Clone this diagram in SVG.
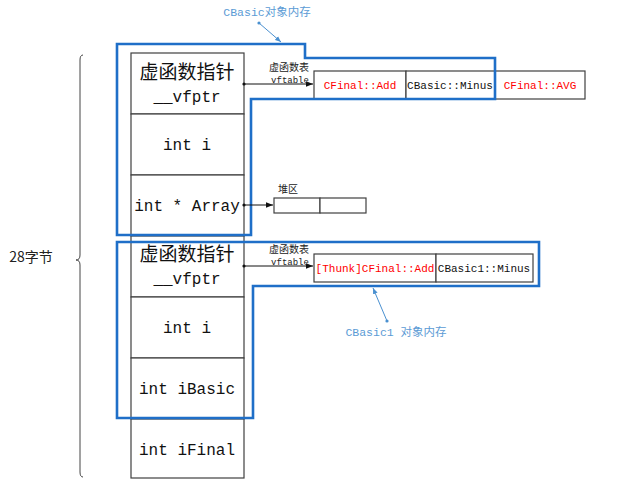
<svg xmlns="http://www.w3.org/2000/svg" width="640" height="480" viewBox="0 0 640 480">
<defs>
<style>
.cell{fill:#fff;stroke:#404040;stroke-width:1.2}
.tcell{fill:#fff;stroke:#404040;stroke-width:1.2}
.big{font-family:"Liberation Mono","Noto Sans CJK SC",monospace;font-size:16px;fill:#111;text-anchor:middle}
.cjk{font-family:"Noto Sans CJK SC",sans-serif;font-size:19px;fill:#111;text-anchor:middle}
.tt{font-family:"Liberation Mono","Noto Sans CJK SC",monospace;font-size:11px;text-anchor:middle}
.red{fill:#ff0000}
.blk{fill:#111}
.small{font-family:"Noto Sans CJK SC",sans-serif;font-size:10px;fill:#222;text-anchor:middle}
.vf{font-family:"Liberation Mono",monospace;font-size:9px;fill:#222;text-anchor:middle}
.lbl{font-family:"Liberation Mono","Noto Sans CJK SC",monospace;font-size:11.5px;fill:#5b9bd5;text-anchor:middle}
.outline{fill:none;stroke:#1f6fc8;stroke-width:2.6}
.ptr{stroke:#111;stroke-width:1;fill:none}
.bptr{stroke:#4a90d0;stroke-width:1;fill:none}
</style>
<marker id="ah" viewBox="0 0 10 10" refX="10" refY="5" markerWidth="7" markerHeight="7" orient="auto"><path d="M0,1 L10,5 L0,9 z" fill="#111"/></marker>
<marker id="bah" viewBox="0 0 10 10" refX="10" refY="5" markerWidth="6" markerHeight="6" orient="auto"><path d="M0,1 L10,5 L0,9 z" fill="#4a90d0"/></marker>
<marker id="dot" viewBox="0 0 10 10" refX="5" refY="5" markerWidth="4" markerHeight="4"><circle cx="5" cy="5" r="4" fill="#111"/></marker>
<marker id="bdot" viewBox="0 0 10 10" refX="5" refY="5" markerWidth="4" markerHeight="4"><circle cx="5" cy="5" r="4" fill="#4a90d0"/></marker>
</defs>
<rect width="640" height="480" fill="#fff"/>

<g id="brace">
<path d="M83,55 Q80,55 80,60 L80,255 Q80,260 76,260 Q80,260 80,265 L80,472 Q80,477 83,477" fill="none" stroke="#444" stroke-width="1"/>
<text x="31" y="262" font-family="Noto Sans CJK SC,sans-serif" font-size="14" fill="#222" text-anchor="middle">28字节</text>
</g>

<g id="cell-vfptr1"><rect class="cell" x="131" y="53" width="113" height="61"/>
<text class="cjk" x="187" y="79">虚函数指针</text><text class="big" x="187" y="102">__vfptr</text></g>
<g id="cell-i1"><rect class="cell" x="131" y="114" width="113" height="61"/><text class="big" x="187" y="150">int i</text></g>
<g id="cell-array"><rect class="cell" x="131" y="175" width="113" height="61"/><text class="big" x="187" y="211">int * Array</text></g>
<g id="cell-vfptr2"><rect class="cell" x="131" y="236" width="113" height="61"/>
<text class="cjk" x="187" y="261">虚函数指针</text><text class="big" x="187" y="284">__vfptr</text></g>
<g id="cell-i2"><rect class="cell" x="131" y="297" width="113" height="61"/><text class="big" x="187" y="333">int i</text></g>
<g id="cell-ibasic"><rect class="cell" x="131" y="358" width="113" height="61"/><text class="big" x="187" y="394">int iBasic</text></g>
<g id="cell-ifinal"><rect class="cell" x="131" y="419" width="113" height="59"/><text class="big" x="187" y="455">int iFinal</text></g>

<g id="vtable1">
<rect class="tcell" x="314" y="71" width="92" height="28"/>
<rect class="tcell" x="406" y="71" width="89" height="28"/>
<rect class="tcell" x="495" y="71" width="90" height="28"/>
<text class="tt red" x="360" y="89">CFinal::Add</text>
<text class="tt blk" x="450" y="89">CBasic::Minus</text>
<text class="tt red" x="540" y="89">CFinal::AVG</text>
</g>

<g id="vtable2">
<rect class="tcell" x="314" y="254" width="122" height="28"/>
<rect class="tcell" x="436" y="254" width="97" height="28"/>
<text class="tt red" x="375" y="272">[Thunk]CFinal::Add</text>
<text class="tt blk" x="484" y="272">CBasic1::Minus</text>
</g>

<g id="heap">
<rect class="tcell" x="274" y="198" width="46" height="15"/>
<rect class="tcell" x="320" y="198" width="46" height="15"/>
<text class="small" x="288" y="193" font-size="11">堆区</text>
</g>

<g id="outline-cbasic">
<path class="outline" d="M117,44 L305,44 L305,58 L495,58 L495,99 L251,99 L251,235 L117,235 Z"/>
<text class="lbl" x="267" y="16">CBasic对象内存</text>
</g>
<g id="outline-cbasic1">
<path class="outline" d="M117,242 L539,242 L539,286 L253,286 L253,418 L117,418 Z"/>
<text class="lbl" x="396" y="336">CBasic1 对象内存</text>
</g>

<g id="connectors">
<line class="ptr" x1="244" y1="84" x2="313" y2="84" marker-start="url(#dot)" marker-end="url(#ah)"/>
<text class="small" x="289" y="71">虚函数表</text>
<text class="vf" x="290" y="83">vftable</text>
<line class="ptr" x1="244" y1="266" x2="313" y2="266" marker-start="url(#dot)" marker-end="url(#ah)"/>
<text class="small" x="289" y="253">虚函数表</text>
<text class="vf" x="290" y="265">vftable</text>
<line class="ptr" x1="244" y1="205" x2="273" y2="205" marker-start="url(#dot)" marker-end="url(#ah)"/>
<line class="bptr" x1="259" y1="23" x2="281" y2="42" marker-start="url(#bdot)" marker-end="url(#bah)"/>
<line class="bptr" x1="387" y1="321" x2="373" y2="288" marker-start="url(#bdot)" marker-end="url(#bah)"/>
</g>
</svg>
